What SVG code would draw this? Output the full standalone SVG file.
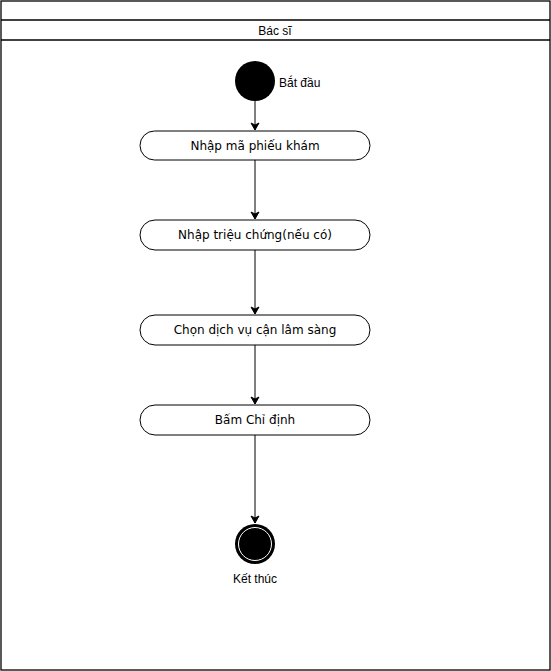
<svg xmlns="http://www.w3.org/2000/svg" width="551" height="671" viewBox="0 0 551 671">
<style>
.lane{fill:#fff;stroke:#000;stroke-width:1.3}
.act{fill:#fff;stroke:#000;stroke-width:1}
.t{font-family:"DejaVu Sans",Verdana,sans-serif;font-size:12px;fill:#000;text-anchor:middle;dominant-baseline:central}
.s{font-family:"Liberation Sans",Arial,sans-serif;font-size:12px;fill:#000;dominant-baseline:central}
.e{stroke:#000;stroke-width:1;fill:none;marker-end:url(#arr)}
</style>
<defs>
<marker id="arr" markerWidth="10" markerHeight="10" refX="8" refY="5" orient="auto" markerUnits="userSpaceOnUse">
<path d="M1,1 L8,5 L1,9 L3,5 Z" fill="#000" stroke="#000"/>
</marker>
</defs>
<g id="lane">
<rect class="lane" x="1" y="1" width="549" height="669"/>
<line x1="1" y1="20" x2="550" y2="20" stroke="#000" stroke-width="1.3"/>
<line x1="1" y1="40" x2="550" y2="40" stroke="#000" stroke-width="1.3"/>
<text class="s" x="275" y="31" text-anchor="middle">Bác sĩ</text>
</g>
<g id="edges">
<line class="e" x1="255" y1="101" x2="255" y2="130"/>
<line class="e" x1="255" y1="160" x2="255" y2="219"/>
<line class="e" x1="255" y1="250" x2="255" y2="314"/>
<line class="e" x1="255" y1="345" x2="255" y2="404"/>
<line class="e" x1="255" y1="435" x2="255" y2="523"/>
</g>
<g id="start">
<circle cx="255" cy="81" r="20" fill="#000"/>
<text class="s" x="279" y="83">Bắt đầu</text>
</g>
<g id="a1">
<rect class="act" x="140" y="131" width="230" height="29" rx="14.5"/>
<text class="t" x="255" y="146">Nhập mã phiếu khám</text>
</g>
<g id="a2">
<rect class="act" x="140" y="220" width="230" height="30" rx="15"/>
<text class="t" x="255" y="235">Nhập triệu chứng(nếu có)</text>
</g>
<g id="a3">
<rect class="act" x="140" y="315" width="230" height="30" rx="15"/>
<text class="t" x="255" y="330">Chọn dịch vụ cận lâm sàng</text>
</g>
<g id="a4">
<rect class="act" x="140" y="405" width="230" height="30" rx="15"/>
<text class="t" x="255" y="420">Bấm Chỉ định</text>
</g>
<g id="end">
<circle cx="255" cy="544" r="20" fill="#000"/>
<circle cx="255" cy="544" r="16.5" fill="#000" stroke="#fff" stroke-width="1"/>
<text class="s" x="255" y="579" text-anchor="middle">Kết thúc</text>
</g>
</svg>
